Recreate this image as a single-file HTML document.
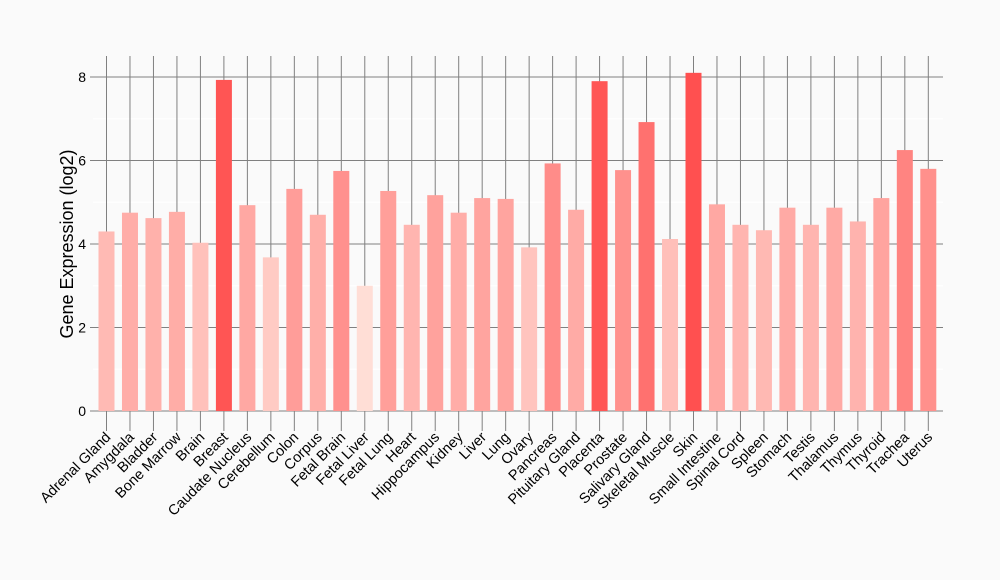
<!DOCTYPE html>
<html><head><meta charset="utf-8"><style>body{margin:0;background:#fafafa}svg{display:block}</style></head>
<body>
<svg id="s" width="1000" height="580" xmlns="http://www.w3.org/2000/svg" font-family="Liberation Sans, Arial, sans-serif">
<rect width="1000" height="580" fill="#fafafa"/>
<g id="g"></g>
</svg>
<script>
const names=["Adrenal Gland","Amygdala","Bladder","Bone Marrow","Brain","Breast","Caudate Nucleus","Cerebellum","Colon","Corpus","Fetal Brain","Fetal Liver","Fetal Lung","Heart","Hippocampus","Kidney","Liver","Lung","Ovary","Pancreas","Pituitary Gland","Placenta","Prostate","Salivary Gland","Skeletal Muscle","Skin","Small Intestine","Spinal Cord","Spleen","Stomach","Testis","Thalamus","Thymus","Thyroid","Trachea","Uterus"];
const v=[4.3,4.75,4.62,4.77,4.03,7.93,4.93,3.68,5.32,4.7,5.75,3.0,5.27,4.46,5.17,4.75,5.1,5.08,3.92,5.93,4.82,7.9,5.77,6.92,4.12,8.1,4.95,4.46,4.33,4.87,4.46,4.87,4.54,5.1,6.25,5.8];
const y0=411,k=41.75,x0=106.5,dx=23.48;
let h='';
for(let i=0;i<=8;i+=2){const y=y0-i*k;h+=`<line x1="90" x2="943" y1="${y}" y2="${y}" stroke="#808080" stroke-width="1"/><text x="86" y="${y+5}" font-size="14" text-anchor="end">${i}</text>`;}
for(let i=1;i<8;i+=2){const y=y0-i*k;h+=`<line x1="93" x2="943" y1="${y}" y2="${y}" stroke="#ffffff" stroke-width="1"/>`;}
names.forEach((n,i)=>{const x=x0+i*dx;h+=`<line x1="${x}" x2="${x}" y1="56" y2="431" stroke="#808080" stroke-width="1"/>`;});
names.forEach((n,i)=>{const x=x0+i*dx;const t=(v[i]-3)/5.1;const g=Math.round(222-142*t),b=Math.round(214-134*t);
h+=`<rect x="${x-8}" y="${y0-v[i]*k}" width="16" height="${v[i]*k}" fill="rgb(255,${g},${b})"/>`;
h+=`<text transform="translate(${x+5},${438}) rotate(-45)" font-size="14.5" text-anchor="end">${n}</text>`;});
h+=`<text transform="translate(73,244) rotate(-90)" font-size="18" text-anchor="middle">Gene Expression (log2)</text>`;
document.getElementById('g').innerHTML=h;
</script>
</body></html>
